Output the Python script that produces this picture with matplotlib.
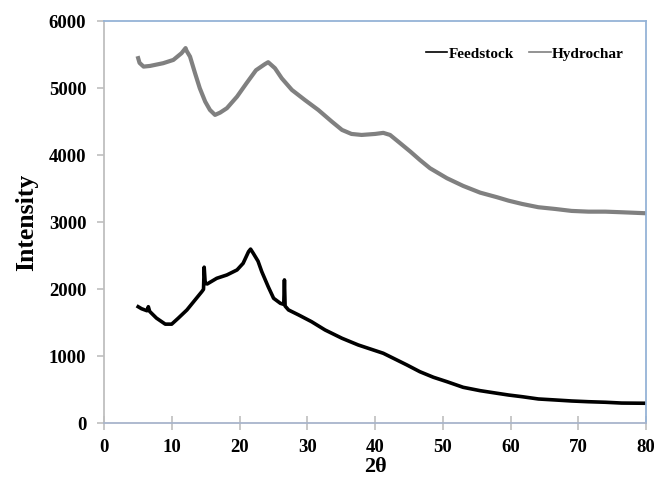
import matplotlib
matplotlib.use("Agg")
import matplotlib.pyplot as plt

# values
feed_2theta = [5.0, 5.5, 6.3, 6.5, 6.7, 7.7, 9.0, 9.95, 10.9, 12.2, 13.4, 14.4, 14.65,
               14.75, 14.9, 15.2, 16.6, 18.1, 19.6, 20.5, 21.3, 21.6, 22.0, 22.7,
               23.25, 24.2, 25.0, 26.0, 26.5, 26.6, 26.7, 27.2, 28.7, 30.6, 32.6,
               35.1, 37.5, 41.2, 42.7, 44.7, 46.6, 48.6, 50.6, 53.0, 55.5, 58.0,
               59.7, 61.7, 64.1, 66.6, 69.0, 71.5, 74.0, 76.4, 80.0]
feed_int = [1740, 1710, 1680, 1740, 1670, 1570, 1480, 1480, 1567, 1692, 1841, 1965, 2000,
            2330, 2090, 2080, 2164, 2214, 2289, 2388, 2562, 2600, 2537, 2420,
            2264, 2040, 1866, 1791, 1775, 2140, 1750, 1692, 1617, 1517, 1393,
            1269, 1169, 1045, 970, 870, 770, 687, 621, 537, 487, 448,
            422, 397, 363, 348, 333, 322, 314, 302, 299]

hydro_2theta = [5.0, 5.2, 5.8, 6.75, 8.7, 10.2, 11.4, 12.0, 12.15, 12.66, 13.4, 14.1,
                14.9, 15.6, 16.35, 17.1, 18.1, 19.6, 21.0, 22.4, 23.7, 24.2, 25.2,
                26.2, 27.7, 29.6, 31.6, 33.6, 35.1, 36.5, 38.0, 40.0, 41.2, 42.2,
                43.7, 45.2, 46.6, 48.1, 50.6, 53.0, 55.5, 58.0, 59.7, 61.7, 64.1,
                66.6, 69.0, 71.5, 74.0, 76.4, 80.0]
hydro_int = [5450, 5380, 5324, 5334, 5375, 5424, 5524, 5600, 5560, 5473, 5225, 5001,
             4801, 4677, 4603, 4637, 4703, 4876, 5076, 5270, 5360, 5390, 5300,
             5150, 4976, 4827, 4677, 4503, 4379, 4319, 4304, 4319, 4335, 4304,
             4180, 4055, 3931, 3807, 3658, 3543, 3443, 3374, 3323, 3274, 3225,
             3199, 3170, 3159, 3159, 3150, 3135]

x_ticks = [0, 10, 20, 30, 40, 50, 60, 70, 80]
y_ticks = [0, 1000, 2000, 3000, 4000, 5000, 6000]

plt.rcParams["font.family"] = ["Liberation Serif", "DejaVu Serif"]
plt.rcParams["font.weight"] = "bold"

fig = plt.figure(figsize=(6.54, 4.79), dpi=100)
ax = fig.add_axes([0.1595, 0.1163, 0.8283, 0.8392])

ax.plot(feed_2theta, feed_int, color="black", linewidth=2.6, label="Feedstock")
ax.plot(hydro_2theta, hydro_int, color="#808080", linewidth=3.0, label="Hydrochar")

ax.set_xlim(0, 80)
ax.set_ylim(0, 6000)
ax.set_xticks(x_ticks)
ax.set_yticks(y_ticks)

ax.spines["left"].set_color("#BFBFBF")
ax.spines["bottom"].set_color("#A8B4CB")
ax.spines["top"].set_color("#95B3D7")
ax.spines["right"].set_color("#95B3D7")
for s in ax.spines.values():
    s.set_linewidth(1.3)

ax.tick_params(axis="y", direction="out", length=5, width=1.2, color="#BFBFBF",
               labelsize=13.5, pad=8)
ax.tick_params(axis="x", direction="inout", length=10, width=1.2, color="#BFBFBF",
               labelsize=13.5, pad=6)
for lab in ax.get_xticklabels() + ax.get_yticklabels():
    lab.set_fontweight("bold")

ax.set_xlabel("2θ", fontsize=16, fontweight="bold", labelpad=1)
ax.set_ylabel("Intensity", fontsize=18.5, fontweight="bold", labelpad=8)

leg = ax.legend(loc="upper right", bbox_to_anchor=(0.985, 0.97), frameon=False,
                ncol=2, handlelength=1.4, handletextpad=0.1, columnspacing=1.0,
                prop={"weight": "bold", "size": 11})
for line in leg.get_lines():
    line.set_linewidth(1.2)

fig.savefig("out.png", dpi=100)
